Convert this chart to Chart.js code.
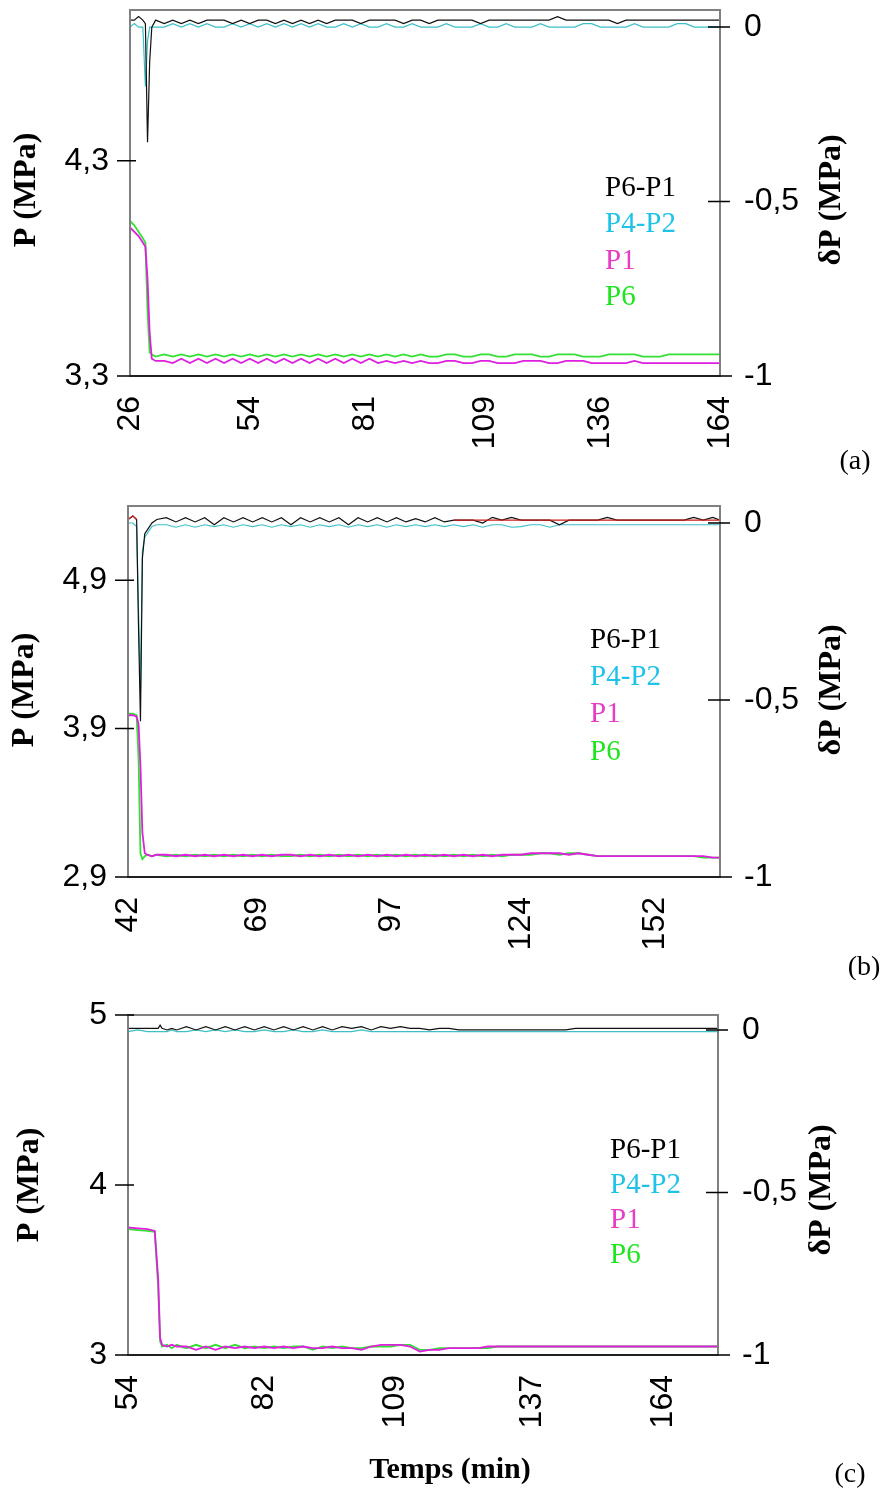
<!DOCTYPE html>
<html>
<head>
<meta charset="utf-8">
<script src="https://cdn.jsdelivr.net/npm/chart.js@4.4.1/dist/chart.umd.min.js"></script>
<style>
  body { margin: 0; background: #fff; }
  canvas { position: absolute; left: 0; }
</style>
</head>
<body>
<canvas id="chartA" width="881" height="480" style="top:0px"></canvas>
<canvas id="chartB" width="881" height="500" style="top:480px"></canvas>
<canvas id="chartC" width="881" height="505" style="top:990px"></canvas>
<script>
// ---- panel (a) ----
const timeA = [26, 27, 28, 29, 29.6, 30.1, 30.6, 31.1, 32,
  34, 36, 38, 40, 42, 44, 46, 48, 50, 52, 54,
  56, 58, 60, 62, 64, 66, 68, 70, 72, 74, 76,
  78, 80, 82, 84, 86, 88, 90, 92, 94, 96, 98,
  100, 102, 104, 106, 108, 110, 112, 114, 116, 118, 120,
  122, 124, 126, 128, 130, 132, 134, 136, 138, 140, 142,
  144, 146, 148, 150, 152, 154, 156, 158, 160, 162, 164];
const dp61A = [0.02, 0.02, 0.03, 0.02, 0.01, -0.33, -0.10, 0.0, 0.02,
  0.01, 0.02, 0.01, 0.02, 0.01, 0.02, 0.02, 0.02, 0.01, 0.02, 0.01,
  0.02, 0.02, 0.01, 0.02, 0.01, 0.02, 0.01, 0.02, 0.01, 0.02, 0.02,
  0.02, 0.01, 0.02, 0.02, 0.02, 0.02, 0.01, 0.02, 0.02, 0.01, 0.02,
  0.02, 0.02, 0.02, 0.02, 0.01, 0.02, 0.02, 0.02, 0.02, 0.02, 0.02,
  0.02, 0.02, 0.03, 0.02, 0.02, 0.02, 0.02, 0.02, 0.02, 0.01, 0.02,
  0.02, 0.02, 0.02, 0.02, 0.02, 0.02, 0.02, 0.02, 0.02, 0.02, 0.02];
const dp42A = [0.0, 0.01, 0.0, 0.0, -0.17, -0.04, 0.0, 0.0, 0.0,
  0.0, 0.01, 0.0, 0.01, 0.0, 0.01, 0.0, 0.0, 0.01, 0.0, 0.01,
  0.0, 0.01, 0.0, 0.01, 0.0, 0.01, 0.0, 0.01, 0.0, 0.0, 0.01,
  0.0, 0.01, 0.0, 0.0, 0.01, 0.0, 0.0, 0.01, 0.0, 0.0, 0.0,
  0.01, 0.0, 0.0, 0.0, 0.01, 0.0, 0.0, 0.01, 0.0, 0.0, 0.0,
  0.01, 0.0, 0.0, 0.0, 0.0, 0.01, 0.01, 0.0, 0.0, 0.0, 0.0,
  0.01, 0.0, 0.0, 0.0, 0.0, 0.01, 0.01, 0.0, 0.0, 0.0, 0.0];
const p1A = [3.99, 3.97, 3.95, 3.92, 3.90, 3.75, 3.50, 3.38, 3.37,
  3.37, 3.36, 3.38, 3.36, 3.38, 3.36, 3.38, 3.36, 3.38, 3.36, 3.38,
  3.36, 3.38, 3.36, 3.38, 3.36, 3.38, 3.36, 3.38, 3.36, 3.38, 3.36,
  3.38, 3.36, 3.38, 3.36, 3.37, 3.36, 3.37, 3.36, 3.37, 3.36, 3.36,
  3.37, 3.37, 3.36, 3.36, 3.37, 3.37, 3.36, 3.36, 3.36, 3.37, 3.37,
  3.37, 3.36, 3.36, 3.37, 3.37, 3.37, 3.36, 3.36, 3.36, 3.36, 3.36,
  3.37, 3.36, 3.36, 3.36, 3.36, 3.36, 3.36, 3.36, 3.36, 3.36, 3.36];
const p6A = [4.02, 4.00, 3.97, 3.94, 3.92, 3.60, 3.41, 3.40, 3.39,
  3.40, 3.39, 3.40, 3.39, 3.40, 3.39, 3.40, 3.39, 3.40, 3.39, 3.40,
  3.39, 3.40, 3.39, 3.40, 3.39, 3.40, 3.39, 3.40, 3.39, 3.40, 3.39,
  3.40, 3.39, 3.40, 3.39, 3.40, 3.39, 3.40, 3.39, 3.40, 3.39, 3.39,
  3.40, 3.40, 3.39, 3.39, 3.40, 3.40, 3.39, 3.39, 3.40, 3.40, 3.40,
  3.39, 3.39, 3.40, 3.40, 3.40, 3.39, 3.39, 3.39, 3.40, 3.40, 3.40,
  3.40, 3.39, 3.39, 3.39, 3.40, 3.40, 3.40, 3.40, 3.40, 3.40, 3.40];
const xTicksA = [26, 54, 81, 109, 136, 164];
const pTicksA = [3.3, 4.3];

// ---- panel (b) ----
const timeB = [42, 43, 43.8, 44.2, 44.6, 45, 45.5, 46, 47, 48,
  50, 52, 54, 56, 58, 60, 62, 64, 66, 68,
  70, 72, 74, 76, 78, 80, 82, 84, 86, 88,
  90, 92, 94, 96, 98, 100, 102, 104, 106, 108,
  110, 112, 114, 116, 118, 120, 122, 124, 126, 128,
  130, 132, 134, 136, 138, 140, 142, 144, 146, 148,
  150, 152, 154, 156, 158, 160, 162, 164, 165.5];
const redB = [0.01, 0.02, 0.01, null, null, null, null, null, null, null,
  null, null, null, null, null, null, null, null, null, null,
  null, null, null, null, null, null, null, null, null, null,
  null, null, null, null, null, null, null, null, null, null,
  0.008, 0.008, 0.008, 0.008, 0.008, 0.008, 0.008, 0.008, 0.008, 0.008,
  0.008, 0.008, 0.008, 0.008, 0.008, 0.008, 0.008, 0.008, 0.008, 0.008,
  0.008, 0.008, 0.008, 0.008, 0.008, 0.008, 0.008, 0.008, 0.008];
const dp61B = [0.01, 0.02, 0.01, -0.30, -0.56, -0.10, -0.03, -0.02, 0.0, 0.01,
  0.015, 0.003, 0.015, 0.003, 0.015, -0.005, 0.015, 0.003, 0.015, 0.003,
  0.015, 0.003, 0.015, -0.005, 0.015, 0.003, 0.015, 0.003, 0.015, -0.005,
  0.015, 0.003, 0.015, 0.003, 0.015, 0.003, 0.012, 0.003, 0.015, 0.003,
  0.008, 0.008, 0.008, 0.0, 0.016, 0.008, 0.016, 0.008, 0.008, 0.008,
  0.008, -0.005, 0.008, 0.008, 0.008, 0.008, 0.016, 0.008, 0.008, 0.008,
  0.008, 0.008, 0.008, 0.008, 0.008, 0.016, 0.008, 0.016, 0.008];
const dp42B = [0.0, 0.0, -0.01, -0.25, -0.47, -0.08, -0.04, -0.03, -0.01, -0.005,
  -0.005, -0.012, -0.005, -0.012, -0.005, -0.01, -0.005, -0.012, -0.005, -0.01,
  -0.005, -0.012, -0.005, -0.01, -0.005, -0.012, -0.005, -0.01, -0.005, -0.012,
  -0.005, -0.01, -0.005, -0.012, -0.005, -0.01, -0.005, -0.01, -0.005, -0.01,
  -0.005, -0.01, -0.005, -0.012, -0.005, -0.005, -0.012, -0.01, -0.005, -0.005,
  -0.012, -0.005, -0.005, -0.005, -0.005, -0.005, -0.005, -0.005, -0.005, -0.005,
  -0.005, -0.005, -0.005, -0.005, -0.005, -0.005, -0.005, -0.005, -0.005];
const p1B = [3.99, 3.99, 3.98, 3.93, 3.65, 3.20, 3.06, 3.05, 3.04, 3.05,
  3.05, 3.04, 3.05, 3.04, 3.05, 3.04, 3.05, 3.04, 3.05, 3.04,
  3.05, 3.04, 3.05, 3.05, 3.04, 3.05, 3.04, 3.05, 3.04, 3.05,
  3.04, 3.05, 3.04, 3.05, 3.04, 3.05, 3.04, 3.05, 3.04, 3.05,
  3.04, 3.05, 3.04, 3.05, 3.04, 3.05, 3.05, 3.05, 3.06, 3.06,
  3.06, 3.06, 3.05, 3.06, 3.05, 3.04, 3.04, 3.04, 3.04, 3.04,
  3.04, 3.04, 3.04, 3.04, 3.04, 3.04, 3.04, 3.03, 3.03];
const p6B = [4.00, 4.00, 3.99, 3.70, 3.06, 3.02, 3.04, 3.05, 3.04, 3.05,
  3.04, 3.05, 3.04, 3.05, 3.04, 3.05, 3.04, 3.05, 3.04, 3.05,
  3.04, 3.05, 3.04, 3.04, 3.05, 3.04, 3.05, 3.04, 3.05, 3.04,
  3.05, 3.04, 3.05, 3.04, 3.05, 3.04, 3.05, 3.04, 3.05, 3.04,
  3.05, 3.04, 3.05, 3.04, 3.05, 3.04, 3.05, 3.05, 3.05, 3.06,
  3.06, 3.05, 3.06, 3.06, 3.05, 3.04, 3.04, 3.04, 3.04, 3.04,
  3.04, 3.04, 3.04, 3.04, 3.04, 3.04, 3.03, 3.03, 3.03];
const xTicksB = [42, 69, 97, 124, 152];
const pTicksB = [2.9, 3.9, 4.9];

// ---- panel (c) ----
const timeC = [54, 56, 58, 59.5, 60.2, 60.6, 61, 62, 63, 64,
  66, 68, 70, 72, 74, 76, 78, 80, 82, 84, 86,
  88, 90, 92, 94, 96, 98, 100, 102, 104, 106, 108,
  110, 112, 114, 116, 118, 120, 122, 124, 126, 128, 130,
  132, 134, 136, 138, 140, 142, 144, 146, 148, 150, 152,
  154, 156, 158, 160, 162, 164, 166, 168, 170, 172, 174, 175.3];
const dp61C = [0.005, 0.005, 0.005, 0.005, 0.005, 0.015, 0.005, 0.0, 0.005, 0.0,
  0.01, 0.0, 0.01, 0.0, 0.01, 0.0, 0.01, 0.0, 0.01, 0.0, 0.01,
  0.0, 0.01, 0.0, 0.01, 0.0, 0.01, 0.005, 0.01, 0.0, 0.01, 0.005,
  0.01, 0.005, 0.005, 0.0, 0.005, 0.005, 0.0, 0.0, 0.0, 0.0, 0.0,
  0.0, 0.0, 0.0, 0.0, 0.0, 0.0, 0.0, 0.005, 0.005, 0.005, 0.005,
  0.005, 0.005, 0.005, 0.005, 0.005, 0.005, 0.005, 0.005, 0.005, 0.005, 0.005, 0.005];
const dp42C = [-0.005, 0.0, -0.005, -0.005, -0.005, -0.005, -0.005, -0.005, 0.0, -0.005,
  -0.005, 0.0, -0.005, 0.0, -0.005, 0.0, -0.005, -0.005, 0.0, -0.005, -0.005,
  0.0, -0.005, -0.005, 0.0, -0.005, -0.005, -0.005, 0.0, -0.005, -0.005, -0.005,
  -0.005, -0.005, -0.005, -0.005, -0.005, -0.005, -0.005, -0.005, -0.005, -0.005, -0.005,
  -0.005, -0.005, -0.005, -0.005, -0.005, -0.005, -0.005, -0.005, -0.005, -0.005, -0.005,
  -0.005, -0.005, -0.005, -0.005, -0.005, -0.005, -0.005, -0.005, -0.005, -0.005, -0.005, -0.005];
const p1C = [3.75, 3.745, 3.74, 3.73, 3.45, 3.10, 3.06, 3.05, 3.06, 3.05,
  3.05, 3.03, 3.05, 3.03, 3.05, 3.04, 3.05, 3.04, 3.05, 3.04, 3.05,
  3.04, 3.05, 3.04, 3.04, 3.05, 3.04, 3.04, 3.03, 3.05, 3.06, 3.06,
  3.06, 3.05, 3.02, 3.03, 3.03, 3.04, 3.04, 3.04, 3.04, 3.05, 3.05,
  3.05, 3.05, 3.05, 3.05, 3.05, 3.05, 3.05, 3.05, 3.05, 3.05, 3.05,
  3.05, 3.05, 3.05, 3.05, 3.05, 3.05, 3.05, 3.05, 3.05, 3.05, 3.05, 3.05];
const p6C = [3.74, 3.735, 3.73, 3.725, 3.40, 3.08, 3.05, 3.06, 3.04, 3.06,
  3.04, 3.06, 3.04, 3.06, 3.04, 3.06, 3.04, 3.05, 3.04, 3.05, 3.04,
  3.05, 3.05, 3.03, 3.05, 3.04, 3.05, 3.04, 3.04, 3.05, 3.05, 3.05,
  3.06, 3.06, 3.03, 3.03, 3.04, 3.04, 3.04, 3.04, 3.04, 3.04, 3.05,
  3.05, 3.05, 3.05, 3.05, 3.05, 3.05, 3.05, 3.05, 3.05, 3.05, 3.05,
  3.05, 3.05, 3.05, 3.05, 3.05, 3.05, 3.05, 3.05, 3.05, 3.05, 3.05, 3.05];
const xTicksC = [54, 82, 109, 137, 164];
const pTicksC = [3, 4, 5];

const dpTicks = [-1, -0.5, 0];

const lineColors = { 'P6-P1': '#111111', 'P4-P2': '#3cbfc8', 'P1': '#e01ee0', 'P6': '#33e033', red: '#cc1a1a' };
const textColors = { 'P6-P1': '#000000', 'P4-P2': '#1fc3e8', 'P1': '#e83cc4', 'P6': '#1ee61e' };

function series(label, times, values, axis, width) {
  return {
    label: label === 'red' ? '' : label,
    data: times.map((t, i) => ({ x: t, y: values[i] })),
    yAxisID: axis,
    borderColor: lineColors[label],
    borderWidth: width,
    pointRadius: 0,
    tension: 0,
    fill: false,
    spanGaps: false
  };
}

// frame, tick marks, legend and titles
const decor = {
  id: 'decor',
  afterDatasetsDraw(chart, args, o) {
    const { ctx, chartArea: a, scales } = chart;
    ctx.save();
    ctx.strokeStyle = '#808080';
    ctx.lineWidth = 2;
    ctx.strokeRect(a.left, a.top, a.right - a.left, a.bottom - a.top);
    ctx.strokeStyle = '#000';
    ctx.lineWidth = 1.5;
    ctx.beginPath();
    ctx.moveTo(a.left - 12, a.bottom);
    ctx.lineTo(a.right + 12, a.bottom);
    scales.y.ticks.forEach(t => {
      const py = scales.y.getPixelForValue(t.value);
      ctx.moveTo(a.left - 13, py);
      ctx.lineTo(a.left + 6, py);
    });
    scales.y2.ticks.forEach(t => {
      const py = scales.y2.getPixelForValue(t.value);
      ctx.moveTo(a.right - 12, py);
      ctx.lineTo(a.right + 10, py);
    });
    ctx.stroke();

    ctx.font = '29px "Liberation Serif"';
    ctx.textBaseline = 'middle';
    ctx.textAlign = 'left';
    chart.data.datasets.filter(d => d.label).forEach((d, i) => {
      ctx.fillStyle = textColors[d.label];
      ctx.fillText(d.label, o.legend[0], o.legend[1] + i * o.legend[2]);
    });

    ctx.fillStyle = '#000';
    ctx.textAlign = 'center';
    ctx.font = 'bold 32px "Liberation Serif"';
    [[o.leftTitle, 'P (MPa)'], [o.rightTitle, 'δP (MPa)']].forEach(([p, s]) => {
      ctx.save();
      ctx.translate(p[0], p[1]);
      ctx.rotate(-Math.PI / 2);
      ctx.fillText(s, 0, 0);
      ctx.restore();
    });
    if (o.xTitle) {
      ctx.font = 'bold 30px "Liberation Serif"';
      ctx.fillText('Temps (min)', o.xTitle[0], o.xTitle[1]);
    }
    ctx.font = '28px "Liberation Serif"';
    ctx.fillText(o.tag, o.tagPos[0], o.tagPos[1]);
    ctx.restore();
  }
};

const comma = v => String(v).replace('.', ',');

function build(id, p) {
  const fixWidth = w => s => { s.width = w; s.paddingTop = 0; s.paddingBottom = 0; };
  const tickFont = { family: 'Liberation Sans', size: 32 };
  new Chart(document.getElementById(id), {
    type: 'line',
    data: { datasets: p.datasets },
    options: {
      responsive: false,
      animation: false,
      layout: { padding: { top: p.area.top, left: 0, right: 0, bottom: 0 } },
      plugins: { legend: { display: false }, tooltip: { enabled: false }, decor: p.decor },
      scales: {
        x: {
          type: 'linear', min: p.xMin, max: p.xMax,
          afterBuildTicks: s => { s.ticks = p.xTicks.map(v => ({ value: v })); },
          afterFit: s => { s.height = p.height - p.area.bottom; s.paddingLeft = 0; s.paddingRight = 0; },
          grid: { display: false }, border: { display: false },
          ticks: { autoSkip: false, minRotation: 90, maxRotation: 90, padding: 12, color: '#000', font: tickFont }
        },
        y: {
          type: 'linear', position: 'left', min: p.pMin, max: p.pMax,
          afterBuildTicks: s => { s.ticks = p.pTicks.map(v => ({ value: v })); },
          afterFit: fixWidth(p.area.left),
          grid: { display: false }, border: { display: false },
          ticks: { padding: 13, color: '#000', font: tickFont, callback: comma }
        },
        y2: {
          type: 'linear', position: 'right', min: -1, max: p.dpMax,
          afterBuildTicks: s => { s.ticks = dpTicks.map(v => ({ value: v })); },
          afterFit: fixWidth(881 - p.area.right),
          grid: { display: false }, border: { display: false },
          ticks: { padding: 16, color: '#000', font: tickFont, callback: comma }
        }
      }
    },
    plugins: [decor]
  });
}

build('chartA', {
  height: 480, area: { left: 130, right: 720, top: 10, bottom: 376 },
  xMin: 26, xMax: 164, xTicks: xTicksA, pMin: 3.3, pMax: 5.0, pTicks: pTicksA, dpMax: 0.049,
  datasets: [
    series('P6-P1', timeA, dp61A, 'y2', 1.2),
    series('P4-P2', timeA, dp42A, 'y2', 1.2),
    series('P1', timeA, p1A, 'y', 1.8),
    series('P6', timeA, p6A, 'y', 1.8)
  ],
  decor: { legend: [605, 188, 36.5], leftTitle: [27, 190], rightTitle: [832, 200], tag: '(a)', tagPos: [855, 462] }
});

build('chartB', {
  height: 500, area: { left: 128, right: 720, top: 26, bottom: 397 },
  xMin: 42, xMax: 165.5, xTicks: xTicksB, pMin: 2.9, pMax: 5.4, pTicks: pTicksB, dpMax: 0.048,
  datasets: [
    series('red', timeB, redB, 'y2', 1.2),
    series('P6-P1', timeB, dp61B, 'y2', 1.2),
    series('P4-P2', timeB, dp42B, 'y2', 1.2),
    series('P1', timeB, p1B, 'y', 1.8),
    series('P6', timeB, p6B, 'y', 1.8)
  ],
  decor: { legend: [590, 160, 37.3], leftTitle: [25, 210], rightTitle: [832, 210], tag: '(b)', tagPos: [864, 488] }
});

build('chartC', {
  height: 505, area: { left: 128, right: 718, top: 25, bottom: 365 },
  xMin: 54, xMax: 175.3, xTicks: xTicksC, pMin: 3, pMax: 5, pTicks: pTicksC, dpMax: 0.046,
  datasets: [
    series('P6-P1', timeC, dp61C, 'y2', 1.2),
    series('P4-P2', timeC, dp42C, 'y2', 1.2),
    series('P1', timeC, p1C, 'y', 1.8),
    series('P6', timeC, p6C, 'y', 1.8)
  ],
  decor: { legend: [610, 160, 35], leftTitle: [30, 195], rightTitle: [822, 200], xTitle: [450, 480], tag: '(c)', tagPos: [850, 485] }
});
</script>
</body>
</html>
